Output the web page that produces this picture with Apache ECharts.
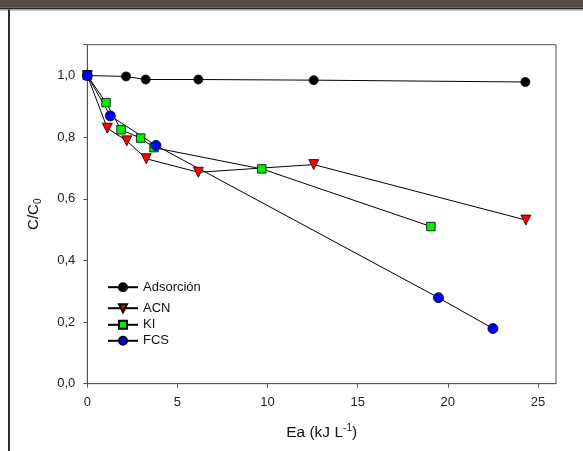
<!DOCTYPE html>
<html>
<head>
<meta charset="utf-8">
<script src="https://cdn.jsdelivr.net/npm/echarts@6/dist/echarts.min.js"></script>
<style>
html,body{margin:0;padding:0;background:#fff;}
#c{width:583px;height:451px;}
</style>
</head>
<body>
<div id="c"></div>
<script>
var xTicks = [0, 5, 10, 15, 20, 25];
var yTicks = ['0,0', '0,2', '0,4', '0,6', '0,8', '1,0'];

var adsX = [0, 2.15, 3.24, 6.16, 12.56, 24.3];
var adsY = [1.0, 0.997, 0.987, 0.987, 0.985, 0.979];

var acnX = [0, 1.11, 2.19, 3.27, 6.16, 12.56, 24.33];
var acnY = [1.0, 0.829, 0.788, 0.730, 0.686, 0.711, 0.531];

var kiX = [0, 1.04, 1.87, 2.96, 3.70, 9.68, 19.06];
var kiY = [1.0, 0.912, 0.824, 0.797, 0.766, 0.697, 0.510];

var fcsX = [0, 1.28, 3.81, 19.48, 22.5];
var fcsY = [1.0, 0.869, 0.773, 0.279, 0.179];

function pairs(xs, ys) { return xs.map(function (x, i) { return [x, ys[i]]; }); }

var FONT = 'Liberation Sans, Arial, sans-serif';
var chart = echarts.init(document.getElementById('c'), null, {renderer: 'canvas'});

function mkSeries(name, xs, ys, symbol, size, color, rot) {
  return {
    name: name, type: 'line', data: pairs(xs, ys),
    symbol: symbol, symbolSize: size, symbolRotate: rot || 0, showAllSymbol: true,
    lineStyle: {color: '#000', width: 1},
    itemStyle: {color: color, borderColor: '#000', borderWidth: 0.8},
    emphasis: {disabled: true}, animation: false, z: 3
  };
}

function mkLegend(name, top) {
  return {
    data: [name], left: 107, top: top, orient: 'horizontal',
    itemWidth: 30, itemHeight: 10, itemGap: 5,
    textStyle: {fontFamily: FONT, fontSize: 13, color: '#111'},
    selectedMode: false, padding: 0
  };
}

chart.setOption({
  backgroundColor: '#fff',
  animation: false,
  grid: {left: 87.3, top: 44.7, right: 27, bottom: 67.3, show: true, borderColor: '#555', borderWidth: 1, backgroundColor: 'transparent'},
  xAxis: {
    type: 'value', min: 0, max: 26, interval: 5,
    axisLine: {show: true, lineStyle: {color: '#555', width: 1}},
    axisTick: {show: true, inside: false, length: 4, lineStyle: {color: '#555'}},
    axisLabel: {fontFamily: FONT, fontSize: 13, color: '#222', margin: 12,
      showMaxLabel: false,
      formatter: function (v) { return xTicks.indexOf(v) >= 0 ? String(v) : ''; }},
    splitLine: {show: false},
    name: '{a|Ea (kJ L}{s|-1}{a|)}', nameLocation: 'middle', nameGap: 40,
    nameTextStyle: {rich: {
      a: {fontFamily: FONT, fontSize: 15.5, color: '#111'},
      s: {fontFamily: FONT, fontSize: 10, color: '#111', verticalAlign: 'top', padding: [0, 0, 8, 0]}
    }}
  },
  yAxis: {
    type: 'value', min: 0, max: 1.1, interval: 0.2,
    axisLine: {show: true, lineStyle: {color: '#555', width: 1}},
    axisTick: {show: true, inside: false, length: 4, lineStyle: {color: '#555'}},
    axisLabel: {fontFamily: FONT, fontSize: 13, color: '#222', margin: 12,
      formatter: function (v) { var i = Math.round(v / 0.2); return (Math.abs(v - i * 0.2) < 1e-6 && yTicks[i]) ? yTicks[i] : ''; }},
    splitLine: {show: false},
    name: '{a|C/C}{s|0}', nameLocation: 'middle', nameGap: 44, nameRotate: 90,
    nameTextStyle: {rich: {
      a: {fontFamily: FONT, fontSize: 15, color: '#111'},
      s: {fontFamily: FONT, fontSize: 10, color: '#111', verticalAlign: 'bottom', padding: [8, 0, 0, 0]}
    }}
  },
  legend: [
    mkLegend('Adsorción', 280.7),
    mkLegend('ACN', 301.7),
    mkLegend('KI', 318.3),
    mkLegend('FCS', 334.3)
  ],
  series: [
    mkSeries('Adsorción', adsX, adsY, 'circle', 9, '#000'),
    mkSeries('ACN', acnX, acnY, 'triangle', 10, '#ff0000', 180),
    mkSeries('KI', kiX, kiY, 'rect', 8.5, '#00ee00'),
    mkSeries('FCS', fcsX, fcsY, 'circle', 10, '#0000ff')
  ],
  graphic: [
    {type: 'rect', shape: {x: 0, y: 0, width: 583, height: 7.5}, style: {fill: '#544a45'}, silent: true},
    {type: 'rect', shape: {x: 0, y: 7.5, width: 583, height: 2}, style: {fill: '#2b2b2b'}, silent: true},
    {type: 'rect', shape: {x: 0, y: 9.5, width: 583, height: 1}, style: {fill: '#999'}, silent: true},
    {type: 'rect', shape: {x: 8, y: 9.5, width: 2, height: 442}, style: {fill: '#2b2b2b'}, silent: true}
  ]
});
</script>
</body>
</html>
